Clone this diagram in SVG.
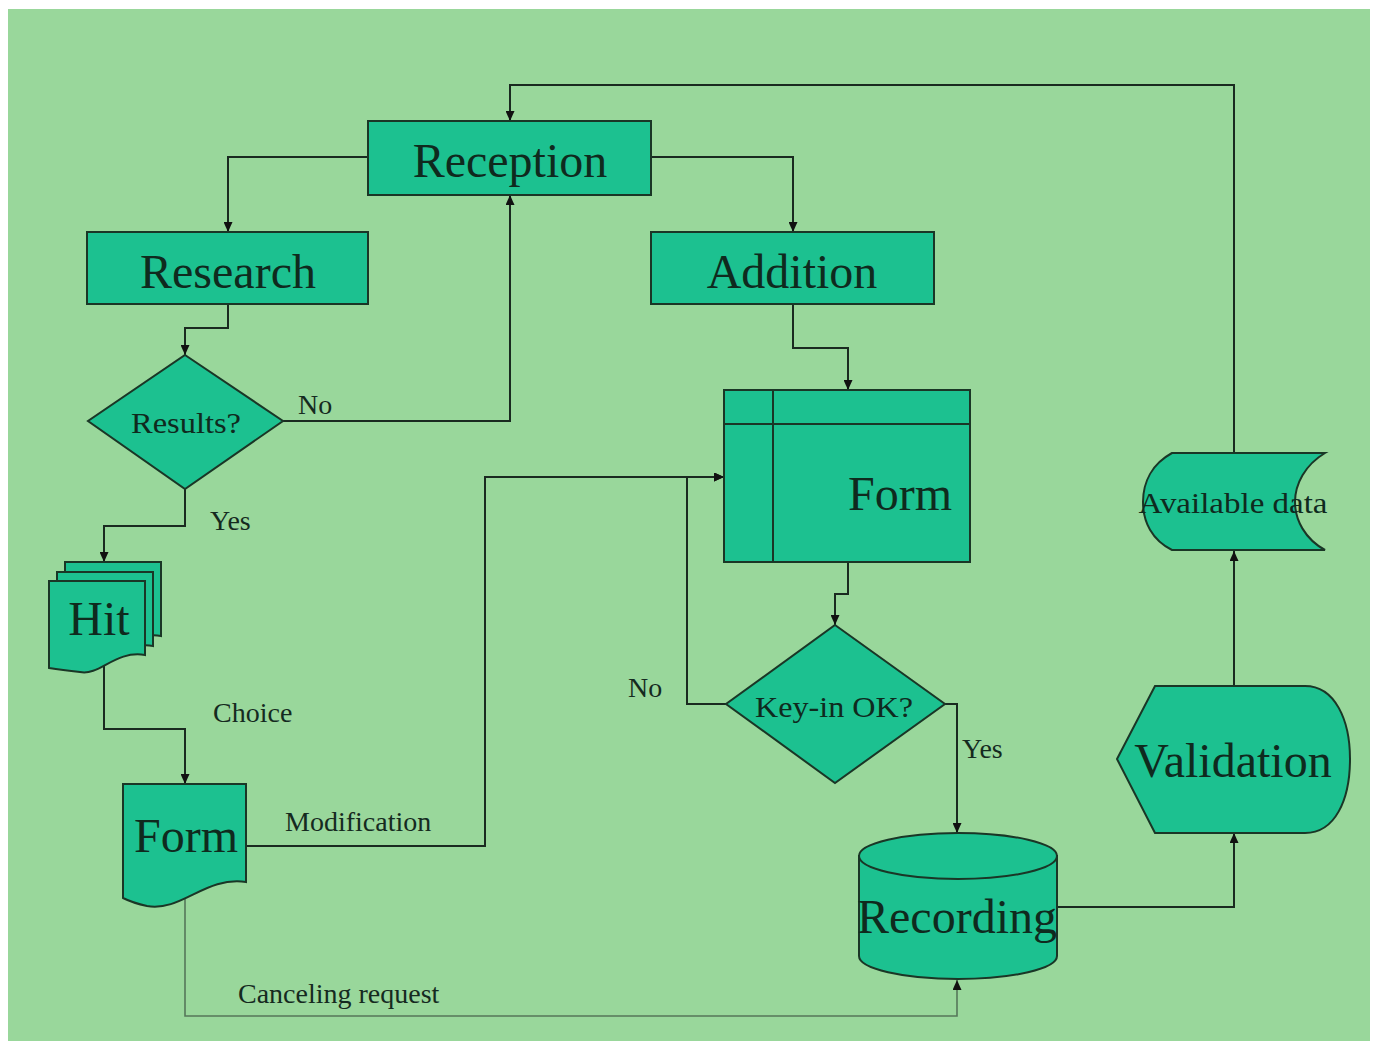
<svg xmlns="http://www.w3.org/2000/svg" width="1374" height="1041" viewBox="0 0 1374 1041">
<style>
.node{fill:#1cc190;stroke:#1a3626;stroke-width:2}
.line{fill:none;stroke:#1a2a20;stroke-width:2}
.cancel{fill:none;stroke:#55775a;stroke-width:1.6}
.big{font-family:"Liberation Serif","Times New Roman",serif;font-size:48px;fill:#0f2a1e;text-anchor:middle}
.mid{font-family:"Liberation Serif","Times New Roman",serif;font-size:30px;fill:#0f2a1e;text-anchor:middle}
.lbl{font-family:"Liberation Serif","Times New Roman",serif;font-size:28px;fill:#152a1f}
</style>
<defs>
<marker id="arr" markerUnits="userSpaceOnUse" markerWidth="10" markerHeight="9" refX="10" refY="4.5" orient="auto">
<path d="M0,0 L10,4.5 L0,9 z" fill="#111"/>
</marker>
<path id="docshape" d="M0,0 H96 V74 C66,69 51,95 31,91 Q13,89 0,87 Z"/>
</defs>
<rect x="0" y="0" width="1374" height="1041" fill="#ffffff"/>
<rect x="8" y="9" width="1362" height="1032" fill="#99d79b"/>

<g id="connectors">
<polyline class="line" points="368,157 228,157 228,232" marker-end="url(#arr)"/>
<polyline class="line" points="651,157 793,157 793,232" marker-end="url(#arr)"/>
<polyline class="line" points="228,304 228,328 185,328 185,355" marker-end="url(#arr)"/>
<polyline class="line" points="283,421 510,421 510,195" marker-end="url(#arr)"/>
<polyline class="line" points="185,489 185,526 104,526 104,562" marker-end="url(#arr)"/>
<polyline class="line" points="104,660 104,729 185,729 185,784" marker-end="url(#arr)"/>
<polyline class="line" points="246,846 485,846 485,477 724,477" marker-end="url(#arr)"/>
<polyline class="line" points="793,304 793,348 848,348 848,390" marker-end="url(#arr)"/>
<polyline class="line" points="848,562 848,594 835,594 835,625" marker-end="url(#arr)"/>
<polyline class="line" points="726,704 687,704 687,477 724,477" marker-end="url(#arr)"/>
<polyline class="line" points="945,704 957,704 957,833" marker-end="url(#arr)"/>
<polyline class="line" points="1056,907 1234,907 1234,833" marker-end="url(#arr)"/>
<polyline class="line" points="1234,686 1234,551" marker-end="url(#arr)"/>
<polyline class="line" points="1234,453 1234,85 510,85 510,121" marker-end="url(#arr)"/>
<polyline class="cancel" points="185,895 185,1016 957,1016 957,980" marker-end="url(#arr)"/>
<text class="lbl" x="298" y="414">No</text>
<text class="lbl" x="210" y="530">Yes</text>
<text class="lbl" x="213" y="722">Choice</text>
<text class="lbl" x="285" y="831">Modification</text>
<text class="lbl" x="628" y="697">No</text>
<text class="lbl" x="962" y="758">Yes</text>
<text class="lbl" x="238" y="1003">Canceling request</text>
</g>

<g id="reception">
<rect class="node" x="368" y="121" width="283" height="74"/>
<text class="big" x="510" y="177">Reception</text>
</g>
<g id="research">
<rect class="node" x="87" y="232" width="281" height="72"/>
<text class="big" x="228" y="288">Research</text>
</g>
<g id="addition">
<rect class="node" x="651" y="232" width="283" height="72"/>
<text class="big" x="792" y="288">Addition</text>
</g>
<g id="results">
<polygon class="node" points="185,355 283,421 185,489 88,421"/>
<text class="mid" x="186" y="433" textLength="110" lengthAdjust="spacingAndGlyphs">Results?</text>
</g>
<g id="hit">
<use href="#docshape" class="node" transform="translate(65,562)"/>
<use href="#docshape" class="node" transform="translate(57,572)"/>
<use href="#docshape" class="node" transform="translate(49,581)"/>
<text class="big" x="99" y="635">Hit</text>
</g>
<g id="form-doc">
<path class="node" d="M123,784 H246 V882 C205,876 182,912 147,906 Q133,903 123,898 Z"/>
<text class="big" x="186" y="852">Form</text>
</g>
<g id="form-storage">
<rect class="node" x="724" y="390" width="246" height="172"/>
<line class="line" x1="773" y1="390" x2="773" y2="562" style="stroke:#1a3626"/>
<line class="line" x1="724" y1="424" x2="970" y2="424" style="stroke:#1a3626"/>
<text class="big" x="900" y="510">Form</text>
</g>
<g id="keyin">
<polygon class="node" points="835,625 945,704 835,783 726,704"/>
<text class="mid" x="834" y="717" textLength="158" lengthAdjust="spacingAndGlyphs">Key-in OK?</text>
</g>
<g id="recording">
<path class="node" d="M859,856 V956 A99,23 0 0 0 1057,956 V856 Z"/>
<ellipse class="node" cx="958" cy="856" rx="99" ry="23"/>
<text class="big" x="957" y="933">Recording</text>
</g>
<g id="validation">
<path class="node" d="M1117,759 L1155,686 H1305 C1335,686 1350,720 1350,759 C1350,800 1335,833 1305,833 H1155 Z"/>
<text class="big" x="1233" y="777">Validation</text>
</g>
<g id="available-data">
<path class="node" d="M1172,453 H1325 C1305,465 1295,484 1295,502 C1295,520 1305,539 1325,550 H1172 C1152,540 1143,522 1143,502 C1143,482 1152,464 1172,453 Z"/>
<text class="mid" x="1233" y="513" textLength="189" lengthAdjust="spacingAndGlyphs">Available data</text>
</g>
</svg>
